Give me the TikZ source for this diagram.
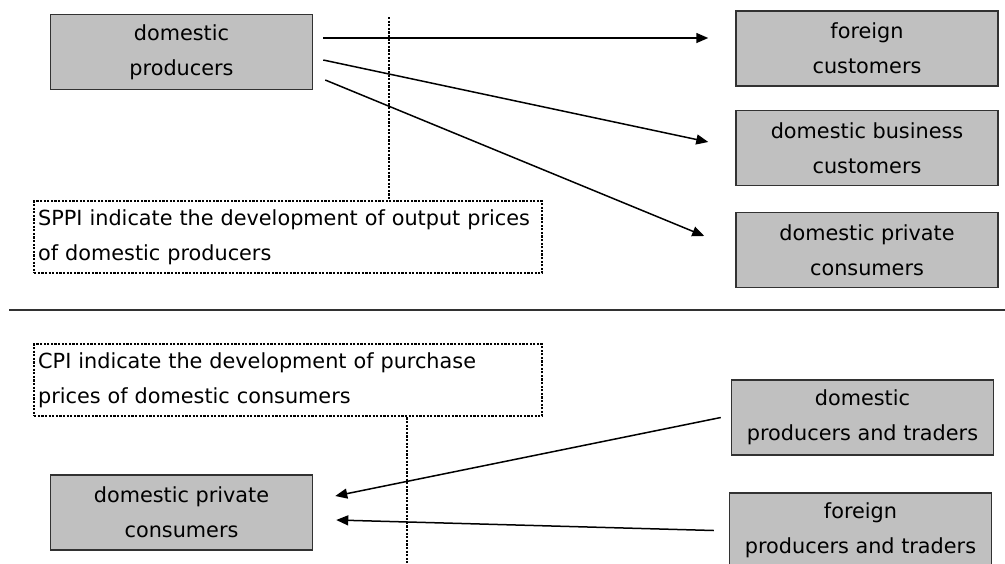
\documentclass[tikz,border=0pt]{standalone}
\usepackage{fontspec}
\setmainfont{DejaVu Sans}
\usetikzlibrary{arrows.meta,calc}
\definecolor{boxgray}{RGB}{192,192,192}
\definecolor{edgegray}{RGB}{50,50,50}
\begin{document}
\begin{tikzpicture}[
        x                  = 0.5pt,
        y                  = -0.5pt,
        font               = \fontsize{10.4}{17.5}\selectfont,
        party/.style       = {draw=edgegray, line width=0.75pt, fill=boxgray, align=center,
                              inner sep=0pt, minimum width=131pt, minimum height=37.5pt},
        note/.style        = {draw=black, line width=1.2pt, dash pattern=on 1.1pt off 0.7pt,
                              align=left, text width=250pt, inner xsep=2pt, inner ysep=0pt,
                              minimum height=36pt, anchor=north west},
        flow/.style        = {draw=black, line width=0.75pt, -{Triangle[length=6pt,width=5pt]}},
        cut/.style         = {draw=black, line width=1.2pt, dash pattern=on 1.1pt off 0.7pt},
        %divider
        sep/.style         = {draw=edgegray, line width=0.9pt}
      ]
    \useasboundingbox (0,0) rectangle (1005,563);

    % output side
    \node[party] (prod)  at (181.5,52)  {domestic\\producers};
    \node[party] (fcust) at (867,48.5)  {foreign\\customers};
    \node[party] (dbus)  at (867,148)   {domestic business\\customers};
    \node[party] (dpriv) at (867,250)   {domestic private\\consumers};
    \node[note]  (sppi)  at (33,200)    {SPPI indicate the development of output prices\\of domestic producers};

    \coordinate (cut1) at (389,17);
    \draw[cut] (cut1) -- (cut1 |- sppi.north);

    \draw[flow] ($(prod.east)+(10,-14)$) -- ($(fcust.west)+(-27,-10.5)$);
    \draw[flow] ($(prod.east)+(10,8)$)   -- ($(dbus.west)+(-27,-6)$);
    \draw[flow] ($(prod.east)+(12,28)$)  -- ($(dpriv.west)+(-31,-14)$);

    \coordinate (sepl) at (9,310);
    \coordinate (sepr) at (1005,310);
    \draw[sep] (sepl) -- (sepr);

    % purchase side
    \node[note]  (cpi)   at (33,343)    {CPI indicate the development of purchase\\prices of domestic consumers};
    \node[party] (cons)  at (181.5,512.5) {domestic private\\consumers};
    \node[party] (dtrad) at (862.5,417.5) {domestic\\producers and traders};
    \node[party] (ftrad) at (860.5,530.5) {foreign\\producers and traders};

    \coordinate (cut2) at (407,563);
    \draw[cut] (cut2 |- cpi.south) -- (cut2);

    \draw[flow] ($(dtrad.west)+(-10,0)$) -- ($(cons.east)+(22,-16.5)$);
    \draw[flow] ($(ftrad.west)+(-15,0)$) -- ($(cons.east)+(23,7.5)$);
\end{tikzpicture}
\end{document}
